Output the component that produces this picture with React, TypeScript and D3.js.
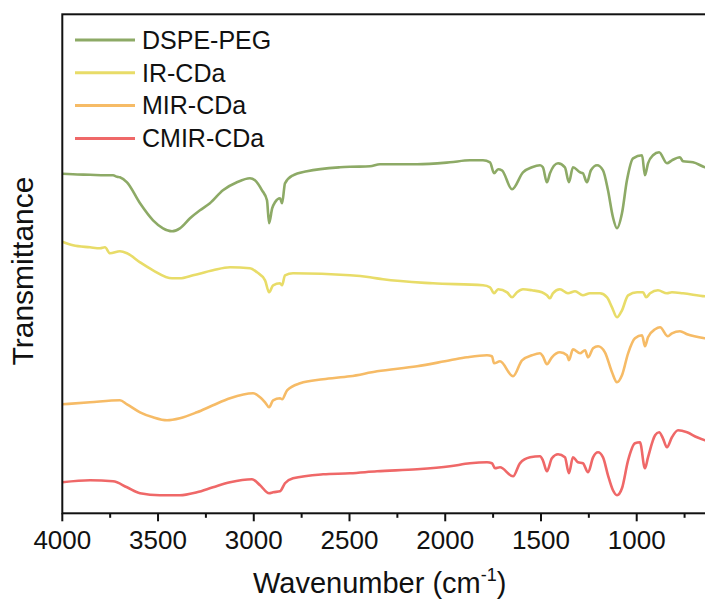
import React from "react";
import * as d3 from "d3";

const seriesNames = ["DSPE-PEG", "IR-CDa", "MIR-CDa", "CMIR-CDa"];
const seriesColors = ["#8DAA66", "#E8DC68", "#F6BB66", "#EF6868"];

const dspePeg: [number, number][] = [[4000,67.9],[3944,67.8],[3855,67.7],[3777,67.6],[3735,67.6],[3714,67.3],[3699,67.2],[3662,66.2],[3594,62.0],[3526,58.6],[3474,57.0],[3427,56.4],[3386,57.0],[3333,59.0],[3281,60.6],[3229,62.0],[3161,64.6],[3088,66.2],[3020,67.0],[2994,66.6],[2957,64.6],[2931,62.6],[2920,58.0],[2904,61.0],[2889,62.2],[2863,63.0],[2852,62.0],[2837,66.0],[2795,67.6],[2722,68.4],[2550,69.2],[2497,69.3],[2393,69.4],[2341,69.8],[2147,69.8],[1975,70.2],[1871,70.6],[1803,70.6],[1766,70.2],[1745,68.0],[1724,68.8],[1704,68.6],[1651,64.8],[1594,68.2],[1547,69.2],[1505,69.6],[1490,69.2],[1469,66.2],[1453,68.0],[1411,70.0],[1375,69.2],[1354,66.2],[1333,69.2],[1296,68.2],[1281,68.0],[1260,66.2],[1239,68.6],[1207,69.6],[1176,68.6],[1150,64.6],[1124,59.2],[1103,57.0],[1077,60.0],[1051,66.6],[1019,71.0],[972,71.6],[957,67.6],[941,70.0],[915,71.6],[883,72.2],[842,70.0],[816,70.6],[774,71.2],[758,70.4],[706,70.2],[643,69.2],[600,68.8]];

const irCDa: [number, number][] = [[4000,54.3],[3944,53.6],[3855,53.2],[3803,53.0],[3777,53.2],[3751,52.0],[3699,52.4],[3662,52.0],[3594,50.2],[3526,48.6],[3427,47.0],[3386,47.0],[3317,47.6],[3213,48.6],[3124,49.2],[3020,49.0],[2983,48.2],[2941,46.6],[2920,44.2],[2899,45.6],[2863,46.0],[2852,45.6],[2837,47.6],[2795,48.0],[2497,47.6],[2393,47.2],[2325,46.8],[2064,46.0],[1803,45.6],[1766,45.2],[1745,44.0],[1724,44.8],[1677,44.2],[1651,43.2],[1625,44.2],[1594,44.8],[1547,44.6],[1495,44.2],[1469,43.6],[1453,43.0],[1438,44.0],[1401,44.8],[1359,44.0],[1322,44.4],[1281,43.6],[1244,44.0],[1192,44.0],[1155,43.2],[1129,41.2],[1103,39.2],[1077,40.6],[1045,43.6],[998,44.2],[967,44.2],[951,43.2],[930,44.0],[889,44.6],[842,44.0],[816,44.2],[758,44.0],[643,43.4],[600,43.3]];

const mirCDa: [number, number][] = [[4000,21.8],[3855,22.2],[3699,22.6],[3662,21.8],[3594,20.2],[3526,19.2],[3453,18.6],[3386,19.0],[3297,20.2],[3213,21.6],[3124,23.0],[3004,24.0],[2967,23.2],[2941,22.2],[2920,21.2],[2899,22.6],[2863,23.0],[2852,22.8],[2826,24.6],[2758,26.0],[2638,26.8],[2497,27.4],[2356,28.4],[2147,29.4],[1975,30.6],[1886,31.2],[1782,31.6],[1756,31.4],[1745,30.0],[1714,30.4],[1646,27.4],[1599,30.6],[1547,31.6],[1505,32.0],[1490,31.4],[1469,29.8],[1443,31.2],[1401,32.2],[1364,31.6],[1354,30.6],[1333,32.8],[1296,32.0],[1270,32.6],[1254,31.2],[1228,33.0],[1202,33.4],[1166,32.2],[1129,28.2],[1103,26.2],[1077,27.6],[1045,32.0],[1009,35.0],[972,35.6],[957,33.4],[941,35.2],[904,36.8],[878,37.2],[837,35.4],[816,36.0],[774,36.4],[737,35.8],[643,35.0],[600,34.8]];

const cmirCDa: [number, number][] = [[4000,6.2],[3855,6.6],[3735,6.4],[3662,5.2],[3594,4.0],[3490,3.6],[3386,3.6],[3297,4.2],[3213,5.2],[3124,6.2],[3009,6.8],[2967,5.6],[2920,4.0],[2899,4.2],[2863,4.4],[2837,6.0],[2795,7.0],[2638,7.8],[2497,8.0],[2356,8.4],[2147,8.8],[1975,9.4],[1871,10.0],[1782,10.2],[1756,10.0],[1740,9.0],[1714,9.2],[1646,7.4],[1610,10.0],[1557,11.2],[1505,11.4],[1490,10.6],[1469,8.4],[1443,11.0],[1411,11.8],[1375,11.2],[1354,8.0],[1333,11.2],[1307,10.2],[1281,10.0],[1254,8.2],[1228,11.2],[1202,12.2],[1176,11.2],[1150,7.6],[1124,4.6],[1103,3.6],[1077,5.0],[1045,10.6],[1009,14.0],[983,14.2],[957,9.0],[941,11.2],[904,15.6],[883,16.2],[863,15.0],[842,13.2],[816,15.2],[784,16.6],[737,16.2],[685,15.2],[643,14.6],[600,14.3]];

const seriesData = [dspePeg, irCDa, mirCDa, cmirCDa];
const majorTicks = [4000, 3500, 3000, 2500, 2000, 1500, 1000];
const minorTicks = [3750, 3250, 2750, 2250, 1750, 1250, 750];

const W = 705, H = 601;
const left = 62.3, top = 14.3, bottom = 513.3;
const xScale = d3.scaleLinear().domain([4000, 400]).range([left, left + 3600 * 0.19147]);
const yScale = d3.scaleLinear().domain([0, 100]).range([bottom, bottom - 500]);
const right = xScale(400);

const font = "'Liberation Sans', Arial, Helvetica, sans-serif";

export default function App() {
  const line = d3.line<[number, number]>()
    .x(d => xScale(d[0]))
    .y(d => yScale(d[1]))
    .curve(d3.curveMonotoneX);

  return (
    <svg width={W} height={H} style={{ position: "absolute", left: 0, top: 0, background: "#fff" }} fontFamily={font}>
      <rect x={0} y={0} width={W} height={H} fill="#fff" />
      {seriesData.map((s, i) => (
        <path key={i} d={line(s) || ""} fill="none" stroke={seriesColors[i]} strokeWidth={2.6} strokeLinejoin="round" />
      ))}
      <rect x={left} y={top} width={right - left} height={bottom - top} fill="none" stroke="#111" strokeWidth={2} />
      {majorTicks.map(t => (
        <g key={"M" + t}>
          <line x1={xScale(t)} x2={xScale(t)} y1={bottom} y2={bottom + 8} stroke="#111" strokeWidth={2} />
          <text x={xScale(t)} y={549} textAnchor="middle" fontSize={26} fill="#111">{t}</text>
        </g>
      ))}
      {minorTicks.map(t => (
        <line key={"m" + t} x1={xScale(t)} x2={xScale(t)} y1={bottom} y2={bottom + 4.5} stroke="#111" strokeWidth={2} />
      ))}
      <text x={253} y={593} fontSize={29} fill="#111">
        Wavenumber (cm<tspan fontSize={18} dy={-12}>-1</tspan><tspan dy={12}>)</tspan>
      </text>
      <text transform={`translate(33,271) rotate(-90)`} textAnchor="middle" fontSize={30} fill="#111">Transmittance</text>
      {seriesNames.map((n, i) => {
        const y = 40 + i * 32.8;
        return (
          <g key={n}>
            <line x1={75} x2={135} y1={y} y2={y} stroke={seriesColors[i]} strokeWidth={3} />
            <text x={142} y={y} dy="0.35em" fontSize={25} fill="#111">{n}</text>
          </g>
        );
      })}
    </svg>
  );
}
